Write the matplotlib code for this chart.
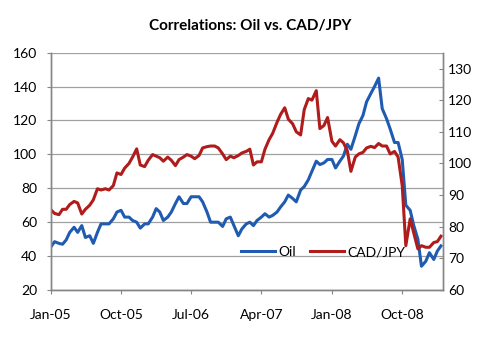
import matplotlib.pyplot as plt
import pandas as pd

# semi-monthly observations, Jan 2005 - Mar 2009
dates = pd.date_range("2005-01-01", "2009-03-01", freq="SMS")

oil = [45.5, 48.5, 47.5, 47, 49.5, 54, 57, 54, 58, 51,
       52, 47.5, 54, 59, 59, 59, 62, 66, 67, 63,
       63, 61, 60, 56.5, 59, 59, 63, 68, 66, 61,
       63, 66, 71, 75, 71, 71, 75, 75, 75, 72,
       66, 60, 60, 60, 57.5, 62, 63, 58, 52, 56,
       59, 60, 58, 61, 63, 65, 63, 64, 66, 69,
       72, 76, 74, 72, 79, 81, 85, 90, 96, 94,
       95, 97, 97, 92, 96, 99, 106, 103, 111, 118,
       123, 131, 136, 140, 145, 127, 121, 115, 107, 107,
       97, 70, 67, 58, 50, 34, 37, 42, 38, 43,
       46]

cad_jpy = [85.3, 84.2, 83.8, 85.5, 85.5, 87, 88, 87.5, 84, 85.5,
           86.8, 88.5, 92, 91.6, 92, 91.6, 93, 97, 96.5, 98.5,
           100, 102, 104.6, 99.5, 99, 101, 102.8, 102.3, 101.8, 100.7,
           102, 101, 99.3, 101.2, 102, 102.8, 102.3, 101.5, 102.5, 104.9,
           105.3, 105.5, 105.5, 104.9, 103, 101.2, 102.3, 101.8, 102.5, 103.3,
           103.8, 104.5, 99.5, 100.5, 100.5, 104.5, 107.5, 109.5, 113, 115.5,
           117.6, 114, 112.5, 110, 109, 117, 120.5, 120, 123, 111,
           112, 114.5, 107, 105.5, 107.5, 106.5, 104, 97.5, 102, 103,
           103.5, 104.9, 105.4, 105, 106.3, 105.5, 105.5, 103, 103.8, 102,
           93, 74, 82.5, 78, 73, 74, 73.5, 73.5, 75, 75.3,
           77]

tick_dates = ["2005-01-01", "2005-10-01", "2006-07-01", "2007-04-01", "2008-01-01", "2008-10-01"]
tick_labels = ["Jan-05", "Oct-05", "Jul-06", "Apr-07", "Jan-08", "Oct-08"]

plt.rcParams['font.family'] = ['Lato', 'DejaVu Sans']

fig = plt.figure(figsize=(5, 3.41), dpi=100)
ax = fig.add_axes([0.102, 0.1496, 0.783, 0.6959])
ax2 = ax.twinx()

blue = "#1f5bb0"
red = "#b01c1c"
axis_col = "#868686"

l1, = ax.plot(dates, oil, color=blue, lw=2.2, label="Oil")
l2, = ax2.plot(dates, cad_jpy, color=red, lw=2.2, label="CAD/JPY")

ax.set_ylim(20, 160)
ax.set_yticks(range(20, 161, 20))
ax2.set_ylim(60, 135)
ax2.set_yticks(range(60, 131, 10))
ax.set_xlim(pd.Timestamp("2005-01-01"), pd.Timestamp("2009-03-07"))
ax.set_xticks(pd.to_datetime(tick_dates))
ax.set_xticklabels(tick_labels)

ax.grid(axis="y", color="#a0a0a0", lw=0.9)
ax.set_axisbelow(True)

for a in (ax, ax2):
    a.spines["top"].set_visible(False)
    for s in ("left", "right", "bottom"):
        a.spines[s].set_color(axis_col)
        a.spines[s].set_linewidth(1.0)

ax.tick_params(axis="x", direction="out", length=3, pad=11, color=axis_col, labelsize=10)
ax.tick_params(axis="y", direction="out", length=3, pad=7, color=axis_col, labelsize=10)
ax2.tick_params(axis="y", direction="in", length=3, pad=4, color=axis_col, labelsize=10)

ax2.legend([l1, l2], ["Oil", "CAD/JPY"], ncol=2, frameon=False, fontsize=10,
           loc="center", bbox_to_anchor=(0.696, 0.159), handlelength=2.4,
           handletextpad=0.3, columnspacing=1.0, borderaxespad=0)

fig.suptitle("Correlations: Oil vs. CAD/JPY", fontsize=11, fontweight="bold", y=0.945)

fig.savefig("out.png", dpi=100)
